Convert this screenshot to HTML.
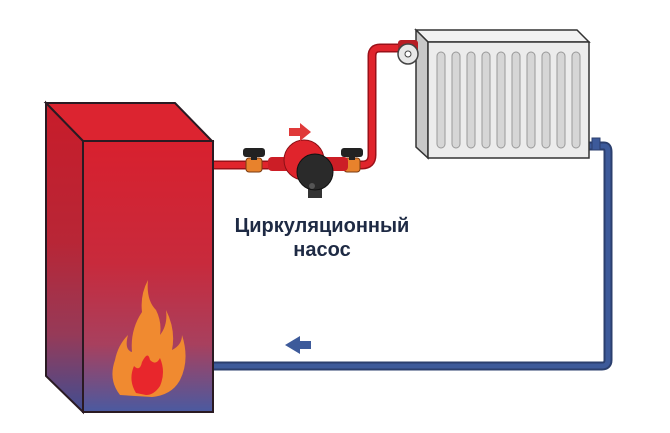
<!DOCTYPE html>
<html><head><meta charset="utf-8"><style>
html,body{margin:0;padding:0;background:#fff;width:670px;height:433px;overflow:hidden}
</style></head><body>
<svg width="670" height="433" viewBox="0 0 670 433" xmlns="http://www.w3.org/2000/svg">
<defs>
<linearGradient id="bg" x1="0" y1="0" x2="0" y2="1">
<stop offset="0" stop-color="#d8202e"/><stop offset="0.45" stop-color="#c82a3c"/><stop offset="0.75" stop-color="#a8405e"/><stop offset="1" stop-color="#4a5aa0"/>
</linearGradient>
<linearGradient id="bs" x1="0" y1="0" x2="0" y2="1">
<stop offset="0" stop-color="#c81c2a"/><stop offset="0.45" stop-color="#b82636"/><stop offset="0.75" stop-color="#963a58"/><stop offset="1" stop-color="#404e92"/>
</linearGradient>
</defs>
<!-- blue return pipe -->
<path d="M588 146 H604 Q608 146 608 152 V360 Q608 366 602 366 H212" fill="none" stroke="#2b3f6e" stroke-width="9"/>
<path d="M588 146 H604 Q608 146 608 152 V360 Q608 366 602 366 H212" fill="none" stroke="#3d5a9a" stroke-width="5"/>
<rect x="592" y="138" width="8" height="12" fill="#3d5a9a" stroke="#2b3f6e"/>
<!-- red supply pipe -->
<path d="M212 165 H362 Q372 165 372 155 V56 Q372 48 380 48 H398" fill="none" stroke="#9a1018" stroke-width="9"/>
<path d="M212 165 H362 Q372 165 372 155 V56 Q372 48 380 48 H398" fill="none" stroke="#e0242c" stroke-width="6"/>
<!-- boiler -->
<polygon points="46,103 175,103 212,141 83,141" fill="#dc2430" stroke="#2a1a22" stroke-width="2"/>
<polygon points="46,103 83,141 83,412 46,376" fill="url(#bs)" stroke="#2a1a22" stroke-width="2"/>
<rect x="83" y="141" width="130" height="271" fill="url(#bg)" stroke="#2a1a22" stroke-width="2"/>
<!-- flame -->
<path d="M120 395 Q108 380 115 360 Q118 345 128 335 Q124 350 132 352 Q130 330 142 312 Q140 295 148 280 Q146 300 156 310 Q162 322 160 335 Q168 325 166 310 Q176 330 172 350 Q182 345 182 335 Q190 360 180 380 Q172 395 152 397 Z" fill="#f08a30"/>
<path d="M136 393 Q128 380 134 366 Q140 372 142 362 Q148 350 150 360 Q156 366 160 358 Q166 372 160 386 Q154 395 146 395 Z" fill="#e8262c"/>
<!-- radiator -->
<polygon points="416,30 577,30 589,42 428,42" fill="#f2f2f2" stroke="#333" stroke-width="1.5"/>
<polygon points="416,30 428,42 428,158 416,147" fill="#c8c8c8" stroke="#333" stroke-width="1.5"/>
<rect x="428" y="42" width="161" height="116" fill="#ececec" stroke="#333" stroke-width="1.5"/>
<g fill="#d6d6d6" stroke="#999">
<rect x="437" y="52" width="8" height="96" rx="4"/><rect x="452" y="52" width="8" height="96" rx="4"/><rect x="467" y="52" width="8" height="96" rx="4"/><rect x="482" y="52" width="8" height="96" rx="4"/><rect x="497" y="52" width="8" height="96" rx="4"/><rect x="512" y="52" width="8" height="96" rx="4"/><rect x="527" y="52" width="8" height="96" rx="4"/><rect x="542" y="52" width="8" height="96" rx="4"/><rect x="557" y="52" width="8" height="96" rx="4"/><rect x="572" y="52" width="8" height="96" rx="4"/>
</g>
<!-- radiator valve -->
<rect x="398" y="40" width="20" height="16" rx="3" fill="#b81c24"/>
<circle cx="408" cy="54" r="10" fill="#e8e8e8" stroke="#444" stroke-width="1.5"/>
<circle cx="408" cy="54" r="3" fill="#fff" stroke="#444"/>
<!-- valves -->
<g>
<rect x="246" y="158" width="16" height="14" rx="3" fill="#e8822c" stroke="#7a3a10"/>
<rect x="243" y="148" width="22" height="9" rx="3" fill="#222"/><rect x="251" y="155" width="6" height="5" fill="#222"/>
<rect x="344" y="158" width="16" height="14" rx="3" fill="#e8822c" stroke="#7a3a10"/>
<rect x="341" y="148" width="22" height="9" rx="3" fill="#222"/><rect x="349" y="155" width="6" height="5" fill="#222"/>
</g>
<!-- pump -->
<rect x="268" y="157" width="80" height="14" rx="4" fill="#cc1e26"/>
<circle cx="304" cy="160" r="20" fill="#e0242c" stroke="#8a1016"/>
<rect x="308" y="186" width="14" height="12" fill="#333"/>
<circle cx="315" cy="172" r="18" fill="#2a2a2a" stroke="#111"/>
<circle cx="312" cy="186" r="3" fill="#555"/>
<!-- arrows -->
<polygon points="289,128 300,128 300,123 311,132 300,141 300,136 289,136" fill="#e03a3a"/>
<polygon points="311,341 300,341 300,336 285,345 300,354 300,349 311,349" fill="#3d5a9a"/>
<!-- label -->
<text x="322" y="232" text-anchor="middle" font-family="Liberation Sans, DejaVu Sans, sans-serif" font-weight="bold" font-size="20" fill="#1e2a44">Циркуляционный</text>
<text x="322" y="256" text-anchor="middle" font-family="Liberation Sans, DejaVu Sans, sans-serif" font-weight="bold" font-size="20" fill="#1e2a44">насос</text>
</svg>
</body></html>
